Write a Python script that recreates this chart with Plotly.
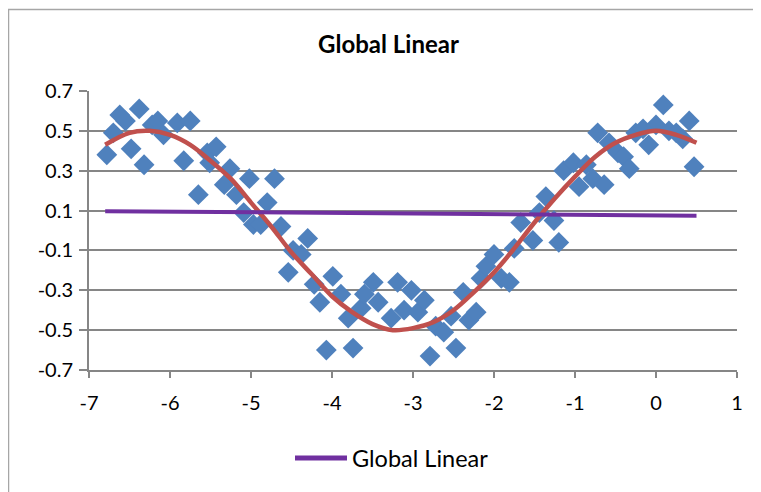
import plotly.graph_objects as go

# Scatter data
scatter_x = [-6.78, -6.70, -6.62, -6.55, -6.38, -6.48, -6.32, -6.22, -6.15, -6.08, -5.91, -5.75,
             -5.83, -5.65, -5.54, -5.43, -5.51, -5.26, -5.33, -5.18, -5.02, -4.71, -5.09, -4.97,
             -4.88, -4.80, -4.63, -4.30, -4.48, -4.38, -4.54, -4.22, -3.99, -4.15, -3.89, -3.80,
             -3.64, -3.60, -3.49, -3.43, -4.07, -3.74, -3.19, -3.02, -3.27, -3.11, -2.94, -2.86,
             -2.79, -2.72, -2.62, -2.53, -2.47, -2.38, -2.31, -2.22, -2.16, -2.10, -2.00, -1.91,
             -1.81, -1.75, -1.67, -1.52, -1.44, -1.26, -1.20, -1.36, -1.14, -1.02, -0.95, -0.86,
             -0.78, -0.64, -0.72, -0.58, -0.47, -0.40, -0.33, -0.25, -0.16, -0.09, 0.00, 0.09,
             0.16, 0.25, 0.33, 0.41, 0.47]
scatter_y = [0.38, 0.49, 0.58, 0.55, 0.61, 0.41, 0.33, 0.53, 0.55, 0.48, 0.54, 0.55,
             0.35, 0.18, 0.39, 0.42, 0.34, 0.31, 0.23, 0.18, 0.26, 0.26, 0.09, 0.03,
             0.03, 0.14, 0.02, -0.04, -0.10, -0.12, -0.21, -0.27, -0.23, -0.36, -0.32, -0.44,
             -0.39, -0.32, -0.26, -0.36, -0.60, -0.59, -0.26, -0.30, -0.44, -0.40, -0.41, -0.35,
             -0.63, -0.48, -0.51, -0.43, -0.59, -0.31, -0.45, -0.41, -0.24, -0.18, -0.12, -0.24,
             -0.26, -0.09, 0.04, -0.05, 0.09, 0.05, -0.06, 0.17, 0.30, 0.34, 0.22, 0.33,
             0.26, 0.23, 0.49, 0.44, 0.39, 0.37, 0.31, 0.49, 0.51, 0.43, 0.53, 0.63,
             0.50, 0.49, 0.46, 0.55, 0.32]

# Smooth red curve
curve_x = [-6.8, -6.5, -6.25, -6.0, -5.75, -5.5, -5.25, -5.0, -4.75, -4.5, -4.25, -4.0,
           -3.75, -3.5, -3.25, -3.0, -2.75, -2.5, -2.25, -2.0, -1.75, -1.5, -1.25, -1.0,
           -0.75, -0.5, -0.25, 0.0, 0.25, 0.5]
curve_y = [0.43, 0.49, 0.50, 0.48, 0.43, 0.35, 0.26, 0.14, 0.02, -0.11, -0.22, -0.33,
           -0.41, -0.47, -0.50, -0.49, -0.46, -0.40, -0.31, -0.21, -0.09, 0.04, 0.16, 0.27,
           0.37, 0.44, 0.48, 0.50, 0.48, 0.44]

# Global linear line
linear_x = [-6.8, 0.5]
linear_y = [0.097, 0.074]
legend_label = "Global Linear"

y_ticks = [0.7, 0.5, 0.3, 0.1, -0.1, -0.3, -0.5, -0.7]
x_ticks = [-7, -6, -5, -4, -3, -2, -1, 0, 1]

FONT = "Lato, 'Open Sans', sans-serif"
W, H = 761, 492
L, T, PW, PH = 81, 83, 648, 279
R, B = W - L - PW, H - T - PH


def px_x(p):
    return (p - L) / PW


def px_y(p):
    return (H - B - p) / PH


fig = go.Figure()
fig.add_trace(go.Scatter(x=scatter_x, y=scatter_y, mode="markers",
                         marker=dict(symbol="diamond", size=16, color="#4F81BD",
                                     line=dict(width=0)),
                         showlegend=False, name="data"))
fig.add_trace(go.Scatter(x=curve_x, y=curve_y, mode="lines",
                         line=dict(color="#C0504D", width=4.5, shape="spline"),
                         showlegend=False, name="curve"))
fig.add_trace(go.Scatter(x=linear_x, y=linear_y, mode="lines",
                         line=dict(color="#7030A0", width=4),
                         showlegend=False, name=legend_label))

fig.update_layout(
    width=W, height=H,
    margin=dict(l=L, r=R, t=T, b=B),
    paper_bgcolor="white", plot_bgcolor="white",
    font=dict(family=FONT, size=20, color="black"),
    title=dict(text="<b>Global Linear</b>", x=0.5, xanchor="center",
               y=1 - 37 / H, yanchor="middle", font=dict(size=24, family=FONT)),
    showlegend=False,
    shapes=[
        dict(type="rect", xref="paper", yref="paper",
             x0=px_x(0.5), x1=px_x(800), y0=px_y(700), y1=px_y(1.5),
             line=dict(color="#A6A6A6", width=1.5), fillcolor="rgba(0,0,0,0)",
             layer="below"),
        dict(type="line", xref="paper", yref="paper",
             x0=px_x(287), x1=px_x(339), y0=px_y(450), y1=px_y(450),
             line=dict(color="#7030A0", width=5)),
    ],
    annotations=[
        dict(text=legend_label, xref="paper", yref="paper", x=px_x(342), y=px_y(450),
             xanchor="left", yanchor="middle", showarrow=False,
             font=dict(size=23.5, family=FONT, color="black")),
    ],
)
fig.update_xaxes(range=[-7, 1], tickvals=x_ticks, ticktext=[str(v) for v in x_ticks],
                 showgrid=False, zeroline=False, showline=True, linecolor="#868686",
                 linewidth=2, ticks="outside", ticklen=6, tickcolor="#868686", tickwidth=2,
                 tickfont=dict(size=20), ticklabelstandoff=8)
fig.update_yaxes(range=[-0.7, 0.7], tickvals=y_ticks, ticktext=[f"{v:.1f}" for v in y_ticks],
                 showgrid=True, gridcolor="#868686", gridwidth=2, zeroline=False,
                 showline=True, linecolor="#868686", linewidth=2, ticks="outside",
                 ticklen=8, tickcolor="#868686", tickwidth=2, tickfont=dict(size=20),
                 ticklabelstandoff=2)

fig.write_html("out.html")
